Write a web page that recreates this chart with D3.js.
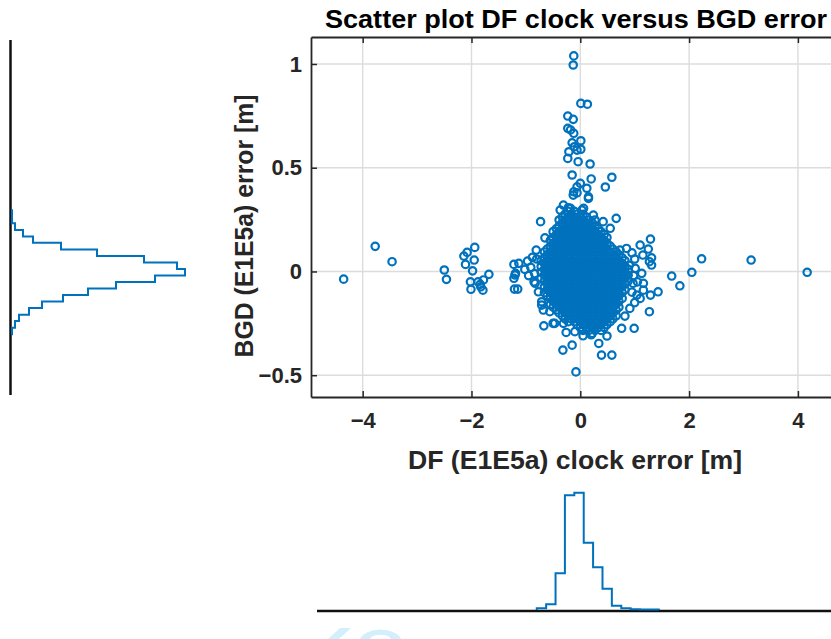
<!DOCTYPE html>
<html lang="en">
<head>
<meta charset="utf-8">
<script src="https://d3js.org/d3.v7.min.js"></script>
<style>
  body { margin: 0; background: #fff; }
  svg { display: block; font-family: "Liberation Sans", Arial, sans-serif; }
</style>
</head>
<body>
<script>
// axis ticks
var xTicks = [-4, -2, 0, 2, 4];
var xTickLabels = ["-4", "-2", "0", "2", "4"];
var yTicks = [-0.5, 0, 0.5, 1];
var yTickLabels = ["-0.5", "0", "0.5", "1"];

// scattered points [DF clock error, BGD error]
var scatterPts = [
  [-4.35,-0.037],[-3.77,0.121],[-3.46,0.047],[-2.50,0.007],[-2.46,-0.038],
  [-1.94,0.116],[-2.08,0.092],[-2.14,0.074],[-1.95,0.055],[-2.11,0.034],[-1.98,0.003],[-1.68,-0.014],
  [-2.02,-0.050],[-1.88,-0.050],[-1.78,-0.041],[-2.01,-0.086],[-1.83,-0.074],[-1.79,-0.090],[-1.84,-0.062],
  [-1.22,0.034],[-1.13,0.039],[-1.22,-0.033],[-1.19,-0.009],[-1.21,-0.085],[-1.15,-0.085],[-1.02,0.010],
  [-0.97,0.050],[-0.88,0.068],[-0.85,-0.050],[-1.20,-0.017],[-0.81,0.103],[-0.91,0.020],[-0.95,-0.020],
  [-0.73,0.240],[-0.65,0.162],[-0.83,-0.057],[-0.77,-0.098],[-0.71,-0.146],[-0.68,-0.186],[-0.56,-0.194],
  [-0.71,-0.162],[-0.80,0.060],[-0.84,-0.010],
  [-0.67,-0.262],[-0.50,-0.250],[-0.47,-0.250],[-0.31,-0.250],[-0.26,-0.294],[-0.15,-0.355],[-0.32,-0.379],
  [-0.08,-0.484],[0.34,-0.347],[0.39,-0.403],[0.58,-0.403],[0.99,-0.274],[0.82,-0.215],[0.49,-0.311],
  [0.76,-0.274],[0.05,-0.310],[0.20,-0.305],[-0.10,-0.290],
  [1.29,0.156],[1.10,0.127],[1.25,0.108],[1.15,0.079],[1.31,0.066],[1.27,0.047],[1.31,0.031],[1.13,-0.009],
  [1.68,-0.022],[1.83,-0.069],[2.05,-0.004],[2.23,0.061],[3.14,0.055],[4.17,-0.004],[1.43,-0.098],
  [1.29,-0.114],[1.16,-0.090],[1.10,-0.130],[1.27,-0.194],[0.97,-0.057],[0.85,0.111],[0.91,-0.178],
  [1.04,-0.114],[1.16,-0.057],[1.01,0.015],[0.73,0.103],[0.66,0.256],[0.55,0.208],[0.42,0.240],[0.24,0.272],
  [0.03,0.296],[-0.37,0.296],[-0.31,0.320],[-0.22,0.307],[0.95,0.090],[1.00,0.060],[0.98,-0.020],
  [1.05,-0.050],[0.95,-0.100],[1.00,-0.150],[0.90,0.030],
  [-0.12,1.039],[-0.13,0.995],[0.01,0.810],[0.13,0.806],[-0.23,0.749],[-0.13,0.733],[-0.23,0.690],
  [-0.18,0.682],[-0.12,0.666],[0.01,0.630],[-0.15,0.620],[-0.11,0.601],[0.01,0.589],[-0.21,0.577],
  [-0.06,0.585],[-0.23,0.545],[-0.04,0.529],[0.18,0.518],[-0.15,0.465],[0.20,0.446],[0.58,0.454],
  [0.46,0.407],[0.00,0.425],[-0.06,0.408],[0.12,0.401],[-0.12,0.384],[0.15,0.360],[-0.06,0.379],
  [-0.18,0.304],[0.06,0.304],[-0.13,0.368],[0.15,0.352]
];

// dense core of the cloud: [BGD error, list of DF clock errors]
var coreRows = [
  [0.290, [-0.22,-0.11]],
  [0.276, [-0.28,-0.17,-0.06,0.05]],
  [0.262, [-0.33,-0.22,-0.11,0,0.11]],
  [0.248, [-0.39,-0.28,-0.17,-0.06,0.05,0.16,0.27]],
  [0.234, [-0.33,-0.22,-0.11,0,0.11,0.22]],
  [0.220, [-0.39,-0.28,-0.17,-0.06,0.05,0.16,0.27]],
  [0.206, [-0.44,-0.33,-0.22,-0.11,0,0.11,0.22,0.33]],
  [0.192, [-0.5,-0.39,-0.28,-0.17,-0.06,0.05,0.16,0.27,0.38]],
  [0.178, [-0.44,-0.33,-0.22,-0.11,0,0.11,0.22,0.33,0.44]],
  [0.164, [-0.5,-0.39,-0.28,-0.17,-0.06,0.05,0.16,0.27,0.38,0.49]],
  [0.150, [-0.55,-0.44,-0.33,-0.22,-0.11,0,0.11,0.22,0.33,0.44]],
  [0.136, [-0.5,-0.39,-0.28,-0.17,-0.06,0.05,0.16,0.27,0.38,0.49]],
  [0.122, [-0.55,-0.44,-0.33,-0.22,-0.11,0,0.11,0.22,0.33,0.44,0.55]],
  [0.108, [-0.61,-0.5,-0.39,-0.28,-0.17,-0.06,0.05,0.16,0.27,0.38,0.49,0.6]],
  [0.094, [-0.66,-0.55,-0.44,-0.33,-0.22,-0.11,0,0.11,0.22,0.33,0.44,0.55,0.66]],
  [0.080, [-0.61,-0.5,-0.39,-0.28,-0.17,-0.06,0.05,0.16,0.27,0.38,0.49,0.6,0.71]],
  [0.066, [-0.66,-0.55,-0.44,-0.33,-0.22,-0.11,0,0.11,0.22,0.33,0.44,0.55,0.66,0.77]],
  [0.052, [-0.72,-0.61,-0.5,-0.39,-0.28,-0.17,-0.06,0.05,0.16,0.27,0.38,0.49,0.6,0.71,0.82]],
  [0.038, [-0.66,-0.55,-0.44,-0.33,-0.22,-0.11,0,0.11,0.22,0.33,0.44,0.55,0.66,0.77]],
  [0.024, [-0.72,-0.61,-0.5,-0.39,-0.28,-0.17,-0.06,0.05,0.16,0.27,0.38,0.49,0.6,0.71,0.82]],
  [0.010, [-0.66,-0.55,-0.44,-0.33,-0.22,-0.11,0,0.11,0.22,0.33,0.44,0.55,0.66,0.77,0.88]],
  [-0.004, [-0.72,-0.61,-0.5,-0.39,-0.28,-0.17,-0.06,0.05,0.16,0.27,0.38,0.49,0.6,0.71,0.82]],
  [-0.018, [-0.66,-0.55,-0.44,-0.33,-0.22,-0.11,0,0.11,0.22,0.33,0.44,0.55,0.66,0.77,0.88]],
  [-0.032, [-0.72,-0.61,-0.5,-0.39,-0.28,-0.17,-0.06,0.05,0.16,0.27,0.38,0.49,0.6,0.71,0.82]],
  [-0.046, [-0.66,-0.55,-0.44,-0.33,-0.22,-0.11,0,0.11,0.22,0.33,0.44,0.55,0.66,0.77,0.88]],
  [-0.060, [-0.61,-0.5,-0.39,-0.28,-0.17,-0.06,0.05,0.16,0.27,0.38,0.49,0.6,0.71,0.82]],
  [-0.074, [-0.66,-0.55,-0.44,-0.33,-0.22,-0.11,0,0.11,0.22,0.33,0.44,0.55,0.66,0.77]],
  [-0.088, [-0.61,-0.5,-0.39,-0.28,-0.17,-0.06,0.05,0.16,0.27,0.38,0.49,0.6,0.71,0.82]],
  [-0.102, [-0.66,-0.55,-0.44,-0.33,-0.22,-0.11,0,0.11,0.22,0.33,0.44,0.55,0.66,0.77]],
  [-0.116, [-0.61,-0.5,-0.39,-0.28,-0.17,-0.06,0.05,0.16,0.27,0.38,0.49,0.6,0.71]],
  [-0.130, [-0.55,-0.44,-0.33,-0.22,-0.11,0,0.11,0.22,0.33,0.44,0.55,0.66,0.77]],
  [-0.144, [-0.5,-0.39,-0.28,-0.17,-0.06,0.05,0.16,0.27,0.38,0.49,0.6,0.71]],
  [-0.158, [-0.55,-0.44,-0.33,-0.22,-0.11,0,0.11,0.22,0.33,0.44,0.55,0.66]],
  [-0.172, [-0.5,-0.39,-0.28,-0.17,-0.06,0.05,0.16,0.27,0.38,0.49,0.6,0.71]],
  [-0.186, [-0.44,-0.33,-0.22,-0.11,0,0.11,0.22,0.33,0.44,0.55,0.66]],
  [-0.200, [-0.39,-0.28,-0.17,-0.06,0.05,0.16,0.27,0.38,0.49,0.6]],
  [-0.214, [-0.33,-0.22,-0.11,0,0.11,0.22,0.33,0.44,0.55,0.66]],
  [-0.228, [-0.28,-0.17,-0.06,0.05,0.16,0.27,0.38,0.49,0.6]],
  [-0.242, [-0.22,-0.11,0,0.11,0.22,0.33,0.44,0.55]],
  [-0.256, [-0.06,0.05,0.16,0.27,0.38,0.49]],
  [-0.270, [0,0.11,0.22,0.33,0.44]],
  [-0.284, [0.05,0.16,0.27,0.38]],
  [-0.298, [0.22]]
];

// BGD histogram (left panel)
var bgdEdges = [-0.302,-0.271,-0.239,-0.208,-0.176,-0.145,-0.114,-0.082,-0.051,-0.019,
                0.012,0.043,0.075,0.106,0.138,0.169,0.200,0.232,0.263,0.295];
var bgdCounts = [1,4,8,18,31,52,77,105,144,174,166,133,86,50,22,12,4,1,1];

// DF clock histogram (bottom panel)
var dfEdges = [-0.800,-0.628,-0.455,-0.283,-0.110,0.063,0.235,0.408,0.580,0.753,0.925,1.098,1.270,1.443];
var dfCounts = [1.7,5.7,36.7,114.7,117.3,67.3,42.7,21.3,4.3,1.7,0.7,0.5,0.5];

var W = 831, H = 639;
var blue = "#0072BD", ink = "#262626";

var svg = d3.select("body").append("svg")
    .attr("width", W)
    .attr("height", H);

var x = d3.scaleLinear().domain([-4.95, 4.95]).range([311, 849.6]);
var y = d3.scaleLinear().domain([-0.605, 1.13]).range([397, 37]);

// grid
svg.append("g").selectAll("line")
    .data(xTicks).enter().append("line")
    .attr("x1", function(d) { return x(d); })
    .attr("x2", function(d) { return x(d); })
    .attr("y1", y(1.13)).attr("y2", y(-0.605))
    .attr("stroke", "#dcdcdc").attr("stroke-width", 1.4);
svg.append("g").selectAll("line")
    .data(yTicks).enter().append("line")
    .attr("y1", function(d) { return y(d); })
    .attr("y2", function(d) { return y(d); })
    .attr("x1", x(-4.95)).attr("x2", x(4.95))
    .attr("stroke", "#dcdcdc").attr("stroke-width", 1.4);

// scatter points
var corePts = [];
coreRows.forEach(function(r) {
    r[1].forEach(function(v) { corePts.push([v, r[0]]); });
});
var allPts = corePts.concat(scatterPts);

svg.append("g").selectAll("circle")
    .data(allPts).enter().append("circle")
    .attr("cx", function(d) { return x(d[0]); })
    .attr("cy", function(d) { return y(d[1]); })
    .attr("r", 3.7)
    .attr("fill", "none")
    .attr("stroke", blue)
    .attr("stroke-width", 2.2);

// axes
function labelFmt(ticks, labels) {
    return function(d) { return labels[ticks.indexOf(d)].replace("-", "\u2212"); };
}
function styleAxis(g) {
    g.attr("font-family", null).attr("font-size", null);
    g.select(".domain").attr("stroke", ink).attr("stroke-width", 1.8);
    g.selectAll(".tick line").attr("stroke", ink).attr("stroke-width", 1.5);
    g.selectAll(".tick text")
        .attr("fill", ink)
        .style("font-size", "22px")
        .style("font-weight", "bold");
}

svg.append("g")
    .attr("transform", "translate(0," + y(-0.605) + ")")
    .call(d3.axisBottom(x).tickValues(xTicks).tickFormat(labelFmt(xTicks, xTickLabels))
        .tickSizeInner(-6).tickSizeOuter(0).tickPadding(15))
    .call(styleAxis);

svg.append("g")
    .attr("transform", "translate(0," + y(1.13) + ")")
    .call(d3.axisTop(x).tickValues(xTicks).tickFormat("")
        .tickSizeInner(-6).tickSizeOuter(0))
    .call(styleAxis);

svg.append("g")
    .attr("transform", "translate(" + x(-4.95) + ",0)")
    .call(d3.axisLeft(y).tickValues(yTicks).tickFormat(labelFmt(yTicks, yTickLabels))
        .tickSizeInner(-6).tickSizeOuter(0).tickPadding(9))
    .call(styleAxis);

// titles
svg.append("text")
    .attr("x", 576).attr("y", 28)
    .attr("text-anchor", "middle")
    .attr("textLength", 502).attr("lengthAdjust", "spacingAndGlyphs")
    .style("font-size", "25px").style("font-weight", "bold")
    .attr("fill", "#000")
    .text("Scatter plot DF clock versus BGD error");

svg.append("text")
    .attr("x", 575).attr("y", 469)
    .attr("text-anchor", "middle")
    .attr("textLength", 334).attr("lengthAdjust", "spacingAndGlyphs")
    .style("font-size", "25px").style("font-weight", "bold")
    .attr("fill", ink)
    .text("DF (E1E5a) clock error [m]");

svg.append("text")
    .attr("transform", "translate(253,226) rotate(-90)")
    .attr("text-anchor", "middle")
    .attr("textLength", 263).attr("lengthAdjust", "spacingAndGlyphs")
    .style("font-size", "25px").style("font-weight", "bold")
    .attr("fill", ink)
    .text("BGD (E1E5a) error [m]");

// left histogram (BGD)
var xc = d3.scaleLinear().domain([0, 174]).range([11, 185]);
svg.append("line")
    .attr("x1", 10.5).attr("x2", 10.5).attr("y1", 40).attr("y2", 395)
    .attr("stroke", "#111").attr("stroke-width", 2.5);

var leftPts = [[xc(0), y(bgdEdges[0])]];
bgdCounts.forEach(function(c, i) {
    leftPts.push([xc(c), y(bgdEdges[i])]);
    leftPts.push([xc(c), y(bgdEdges[i + 1])]);
});
leftPts.push([xc(0), y(bgdEdges[bgdEdges.length - 1])]);
svg.append("path")
    .attr("d", d3.line()(leftPts))
    .attr("fill", "none").attr("stroke", blue).attr("stroke-width", 2);

// bottom histogram (DF clock)
var yc = d3.scaleLinear().domain([0, 117.3]).range([610, 492.7]);
svg.append("line")
    .attr("x1", 317).attr("x2", W).attr("y1", 611).attr("y2", 611)
    .attr("stroke", "#111").attr("stroke-width", 2.5);

var botPts = [[x(dfEdges[0]), yc(0)]];
dfCounts.forEach(function(c, i) {
    botPts.push([x(dfEdges[i]), yc(c)]);
    botPts.push([x(dfEdges[i + 1]), yc(c)]);
});
botPts.push([x(dfEdges[dfEdges.length - 1]), yc(0)]);
svg.append("path")
    .attr("d", d3.line()(botPts))
    .attr("fill", "none").attr("stroke", blue).attr("stroke-width", 2);

// faint watermark fragment at the bottom edge
svg.append("path")
    .attr("d", "M340,628 L351,628 L339,639 L328,639 Z")
    .attr("fill", "#d3effc");
svg.append("path")
    .attr("d", "M360,639 A21,12 0 0 1 401,639 L391,639 A11,6 0 0 0 370,639 Z")
    .attr("fill", "#d3effc");
</script>
</body>
</html>
